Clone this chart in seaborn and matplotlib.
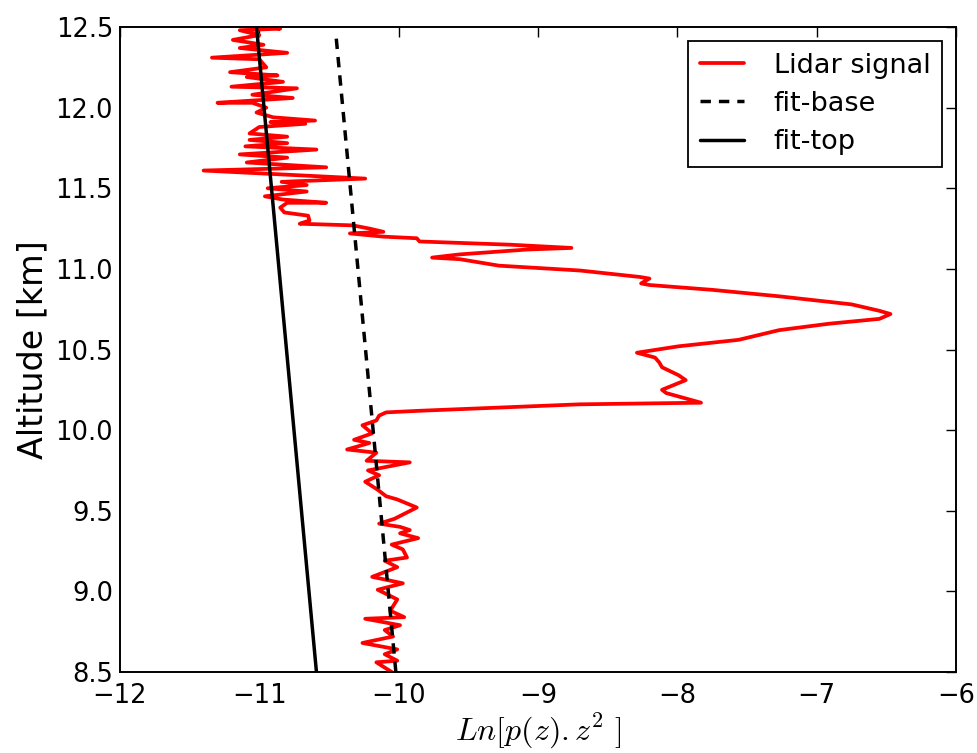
import numpy as np
import pandas as pd
import matplotlib
matplotlib.use("Agg")
import matplotlib.pyplot as plt
import seaborn as sns

# Lidar signal trace (x = Ln[p(z).z^2], y = altitude km), bottom to top
lidar_x = [-10.05, -10.16, -10.01, -10.10, -10.01, -10.26, -10.04, -10.10, -9.99, -10.24,
           -9.96, -10.06, -10.01, -10.15, -9.97, -10.19, -10.01, -10.10, -9.94, -9.97,
           -10.05, -9.86, -9.99, -9.92, -9.99, -10.14, -10.03, -9.87, -10.01, -10.09,
           -10.15, -10.24, -10.14, -10.22, -9.92, -10.23, -10.16, -10.37, -10.21, -10.32,
           -10.19, -10.26, -10.16, -10.14, -10.09, -9.85, -8.70, -7.83,
           -8.08, -8.11, -7.94, -7.99, -8.11, -8.13, -8.16, -8.29, -7.99, -7.56,
           -7.27, -6.91, -6.55, -6.47, -6.55, -6.75, -7.27, -7.75, -8.20, -8.26,
           -8.20, -8.27, -8.70, -9.28, -9.56, -9.76, -9.56, -9.08, -8.76, -9.20,
           -9.85, -9.87, -10.11, -10.35, -10.11, -10.21, -10.33, -10.71, -10.64, -10.65,
           -10.82, -10.85, -10.80, -10.52, -10.83, -10.96, -10.66, -10.94, -10.66, -10.84,
           -10.24, -11.40, -10.52, -11.09, -10.80, -11.14, -10.59, -11.10, -10.80, -11.07,
           -10.80, -11.07, -11.00, -10.67, -10.92, -10.60, -10.90, -11.02, -10.95, -11.05,
           -11.30, -10.76, -11.05, -10.73, -11.20, -10.83, -11.09, -10.87, -11.21, -10.95,
           -11.00, -11.34, -10.80, -11.14, -10.97, -11.19, -11.00, -11.14, -10.85, -10.95]
lidar_y = [8.50, 8.56, 8.57, 8.61, 8.64, 8.68, 8.72, 8.76, 8.79, 8.83,
           8.84, 8.88, 8.95, 9.01, 9.05, 9.09, 9.15, 9.19, 9.21, 9.26,
           9.29, 9.33, 9.36, 9.38, 9.40, 9.42, 9.45, 9.52, 9.57, 9.59,
           9.63, 9.68, 9.72, 9.75, 9.80, 9.81, 9.86, 9.88, 9.92, 9.94,
           9.98, 10.03, 10.06, 10.09, 10.11, 10.12, 10.16, 10.17,
           10.23, 10.25, 10.31, 10.34, 10.39, 10.42, 10.45, 10.48, 10.52, 10.56,
           10.62, 10.66, 10.69, 10.72, 10.74, 10.78, 10.83, 10.87, 10.90, 10.91,
           10.94, 10.95, 10.99, 11.02, 11.06, 11.07, 11.09, 11.12, 11.13, 11.15,
           11.17, 11.19, 11.20, 11.22, 11.23, 11.25, 11.27, 11.28, 11.30, 11.33,
           11.35, 11.38, 11.41, 11.41, 11.43, 11.45, 11.48, 11.50, 11.52, 11.54,
           11.56, 11.61, 11.63, 11.66, 11.69, 11.71, 11.74, 11.76, 11.78, 11.80,
           11.82, 11.84, 11.88, 11.90, 11.91, 11.92, 11.94, 11.97, 12.00, 12.03,
           12.03, 12.06, 12.08, 12.12, 12.13, 12.16, 12.19, 12.20, 12.22, 12.25,
           12.30, 12.31, 12.34, 12.37, 12.39, 12.42, 12.45, 12.48, 12.49, 12.50]

# Fit lines (end points)
fit_base_x = [-10.02, -10.45]
fit_base_y = [8.50, 12.45]
fit_top_x = [-10.59, -11.02]
fit_top_y = [8.50, 12.50]

x_ticks = [-12, -11, -10, -9, -8, -7, -6]
y_ticks = [8.5, 9.0, 9.5, 10.0, 10.5, 11.0, 11.5, 12.0, 12.5]

sns.set_theme(style="white")
plt.rcParams['font.family'] = ['DejaVu Sans']
plt.rcParams['mathtext.fontset'] = 'cm'
plt.rcParams['text.color'] = 'black'
plt.rcParams['axes.labelcolor'] = 'black'

fig = plt.figure(figsize=(9.77, 7.53), dpi=100)
ax = fig.add_axes([0.1228, 0.1076, 0.8557, 0.8565])

df_l = pd.DataFrame({"x": lidar_x, "y": lidar_y})
df_b = pd.DataFrame({"x": fit_base_x, "y": fit_base_y})
df_t = pd.DataFrame({"x": fit_top_x, "y": fit_top_y})

sns.lineplot(data=df_l, x="x", y="y", sort=False, estimator=None, ax=ax,
             color="red", linewidth=2.7, label="Lidar signal")
sns.lineplot(data=df_b, x="x", y="y", sort=False, estimator=None, ax=ax,
             color="black", linewidth=2.5, linestyle=(0, (3.0, 2.3)), label="fit-base")
sns.lineplot(data=df_t, x="x", y="y", sort=False, estimator=None, ax=ax,
             color="black", linewidth=2.5, label="fit-top")

ax.set_xlim(-12, -6)
ax.set_ylim(8.5, 12.5)
ax.set_xticks(x_ticks)
ax.set_yticks(y_ticks)
ax.set_xticklabels([f"\u2212{abs(v)}" for v in x_ticks])
ax.set_yticklabels([f"{v:.1f}" for v in y_ticks])
ax.tick_params(direction="in", length=7, width=1, top=True, right=True,
               labelsize=18.5, colors="black", pad=5)
ax.tick_params(axis="x", pad=8)
for s in ax.spines.values():
    s.set_color("black")
    s.set_linewidth(1.4)

ax.set_xlabel(r"$Ln[p(z).z^2\ ]$", fontsize=23, labelpad=2, color="black")
ax.set_ylabel("Altitude [km]", fontsize=24, labelpad=4, color="black")

leg = ax.legend(loc="upper right", fontsize=19.5, frameon=True, fancybox=False,
                edgecolor="black", borderpad=0.45, handlelength=1.6,
                handletextpad=1.1, borderaxespad=0.5, labelspacing=0.45)
leg.get_frame().set_linewidth(1.3)
leg.get_frame().set_alpha(1)
for t in leg.get_texts():
    t.set_color("black")

fig.savefig("out.png", dpi=100)
